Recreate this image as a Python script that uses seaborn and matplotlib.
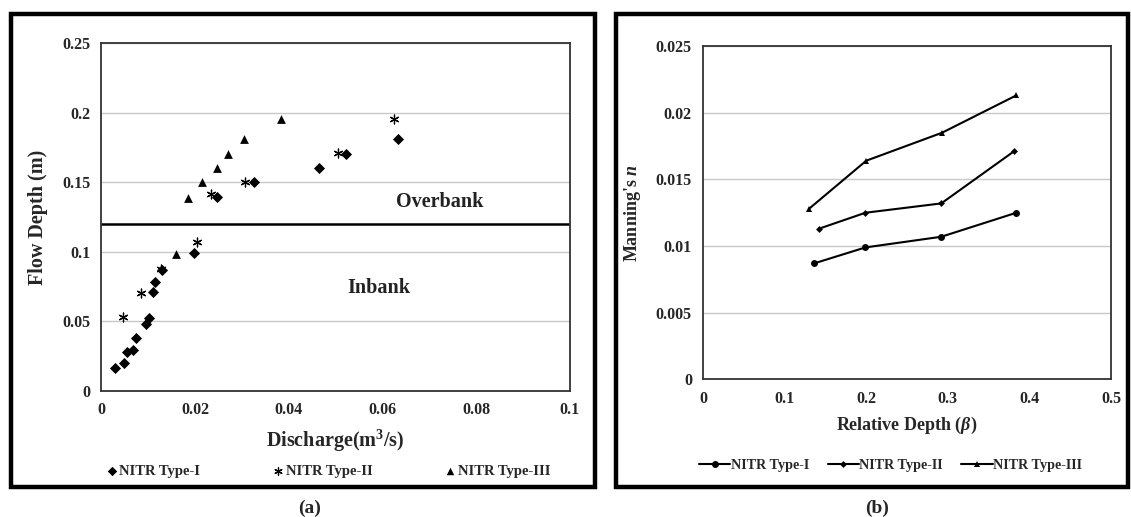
import matplotlib
matplotlib.use("Agg")
import matplotlib.pyplot as plt
from matplotlib.patches import Rectangle
from matplotlib.ticker import FuncFormatter, MultipleLocator
import pandas as pd
import seaborn as sns

# (a) stage-discharge data
type1_q = [0.0029, 0.0049, 0.0054, 0.0068, 0.0074, 0.0095, 0.0102, 0.0109, 0.0115, 0.0130,
           0.0198, 0.0247, 0.0325, 0.0464, 0.0522, 0.0632]
type1_h = [0.0166, 0.0198, 0.0280, 0.0293, 0.0380, 0.0485, 0.0524, 0.0709, 0.0784, 0.0868,
           0.0990, 0.1397, 0.1506, 0.1607, 0.1705, 0.1810]
type2_q = [0.0047, 0.0084, 0.0128, 0.0205, 0.0233, 0.0307, 0.0504, 0.0625]
type2_h = [0.0532, 0.0705, 0.0880, 0.1070, 0.1414, 0.1506, 0.1710, 0.1960]
type3_q = [0.0159, 0.0184, 0.0215, 0.0246, 0.0271, 0.0305, 0.0384]
type3_h = [0.0988, 0.1385, 0.1506, 0.1604, 0.1705, 0.1811, 0.1960]
bankfull_depth = 0.12

# (b) Manning's n vs relative depth
type1_beta = [0.136, 0.199, 0.292, 0.384]
type1_n = [0.0087, 0.0099, 0.0107, 0.0125]
type2_beta = [0.142, 0.199, 0.292, 0.381]
type2_n = [0.0113, 0.0125, 0.0132, 0.0171]
type3_beta = [0.130, 0.200, 0.293, 0.384]
type3_n = [0.0128, 0.0164, 0.0185, 0.0213]

labels = ["NITR Type-I", "NITR Type-II", "NITR Type-III"]

sns.set_style("white")
plt.rcParams["font.family"] = ["Liberation Serif", "DejaVu Serif"]
plt.rcParams["font.weight"] = "bold"
plt.rcParams["axes.labelweight"] = "bold"
plt.rcParams["mathtext.fontset"] = "custom"
plt.rcParams["mathtext.rm"] = "Liberation Serif:bold"
plt.rcParams["mathtext.bf"] = "Liberation Serif:bold"
plt.rcParams["mathtext.it"] = "Liberation Serif:bold:italic"

fig = plt.figure(figsize=(11.31, 5.17), dpi=100)
ax1 = fig.add_axes([0.0897, 0.2437, 0.4142, 0.6723])
ax2 = fig.add_axes([0.6216, 0.2660, 0.3607, 0.6450])

fmt = FuncFormatter(lambda v, p: "%g" % round(v, 4))

# --- (a) ---
series_a = [(type1_q, type1_h, "D", 32), (type2_q, type2_h, (6, 2, 0), 40), (type3_q, type3_h, "^", 40)]
for (q, h, mk, sz), lab in zip(series_a, labels):
    df = pd.DataFrame({"q": q, "h": h})
    sns.scatterplot(data=df, x="q", y="h", ax=ax1, marker=mk, s=sz, color="black",
                    linewidth=0.9 if mk == (6, 2, 0) else 0, label=lab, zorder=3)
ax1.axhline(bankfull_depth, color="black", lw=1.8, zorder=2)
ax1.text(0.0721, 0.136, "Overbank", ha="center", va="center", fontsize=14.5, fontweight="bold", color="#222222")
ax1.text(0.0592, 0.074, "Inbank", ha="center", va="center", fontsize=14.5, fontweight="bold", color="#222222")
ax1.set_xlim(0, 0.1)
ax1.set_ylim(0, 0.25)
ax1.xaxis.set_major_locator(MultipleLocator(0.02))
ax1.yaxis.set_major_locator(MultipleLocator(0.05))
ax1.set_xlabel("Discharge(m$^\\mathrm{3}$/s)", fontsize=14.5, labelpad=7)
ax1.set_ylabel("Flow Depth (m)", fontsize=14.5, labelpad=10)
ax1.legend(loc="upper center", bbox_to_anchor=(0.485, -0.175), ncol=3, frameon=False,
           handlelength=0.7, handletextpad=0.15, columnspacing=5.0, fontsize=10.5, markerscale=0.85)

# --- (b) ---
series_b = [(type1_beta, type1_n, "o", 5), (type2_beta, type2_n, "D", 3.5), (type3_beta, type3_n, "^", 5)]
for (b, n, mk, ms), lab in zip(series_b, labels):
    df = pd.DataFrame({"beta": b, "n": n})
    sns.lineplot(data=df, x="beta", y="n", ax=ax2, color="black", lw=1.5, marker=mk,
                 markersize=ms, markeredgewidth=0, label=lab, sort=False)
ax2.set_xlim(0, 0.5)
ax2.set_ylim(0, 0.025)
ax2.xaxis.set_major_locator(MultipleLocator(0.1))
ax2.yaxis.set_major_locator(MultipleLocator(0.005))
ax2.set_xlabel("Relative Depth ($\\mathit{\\beta}$)", fontsize=13, labelpad=6)
ax2.set_ylabel("Manning's $\\mathit{n}$", fontsize=13, labelpad=9)
ax2.legend(loc="upper center", bbox_to_anchor=(0.46, -0.2), ncol=3, frameon=False,
           handletextpad=0.05, columnspacing=1.3, handlelength=2.2, fontsize=10.2)

for ax in (ax1, ax2):
    ax.xaxis.set_major_formatter(fmt)
    ax.yaxis.set_major_formatter(fmt)
    ax.grid(axis="y", color="#c8c8c8", lw=1)
    ax.grid(axis="x", visible=False)
    ax.tick_params(length=0, labelsize=11.5, pad=8)
    for sp in ax.spines.values():
        sp.set_color("#333333")
        sp.set_linewidth(1.3)

# outer frames and panel captions
fig.add_artist(Rectangle((11 / 1131, 1 - 487 / 517), 584 / 1131, 473 / 517, transform=fig.transFigure,
                         fill=False, lw=3.2, edgecolor="black"))
fig.add_artist(Rectangle((616 / 1131, 1 - 487 / 517), 512 / 1131, 473 / 517, transform=fig.transFigure,
                         fill=False, lw=3.2, edgecolor="black"))
fig.text(310 / 1131, 1 - 508 / 517, "(a)", ha="center", va="center", fontsize=14, fontweight="bold")
fig.text(877 / 1131, 1 - 508 / 517, "(b)", ha="center", va="center", fontsize=14, fontweight="bold")

plt.savefig("out.png", dpi=100)
